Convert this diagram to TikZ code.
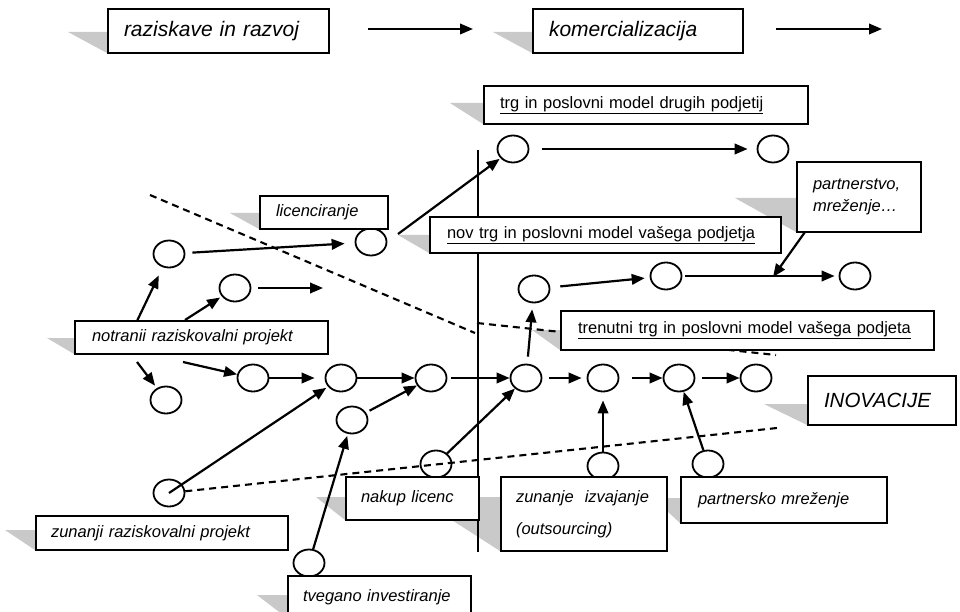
\documentclass[tikz,border=0pt]{standalone}
\usepackage{fontspec}
\setmainfont{Liberation Sans}
\usetikzlibrary{arrows.meta,shapes.geometric}
\begin{document}
\begin{tikzpicture}[x=1pt,y=-1pt,
 box/.style={draw,line width=2pt,fill=white,anchor=west,align=left,inner ysep=0pt},
 circ/.style={draw,ellipse,line width=1.8pt,minimum width=31pt,minimum height=27pt,inner sep=0pt},
 arr/.style={line width=2.2pt,-{Triangle[length=13pt,width=10.5pt]}},
 dashline/.style={line width=2.1pt,dash pattern=on 7pt off 5pt},
 shade/.style={fill=gray!42,draw=none},
 big/.style={font=\fontsize{21}{25}\selectfont\itshape},
 lab/.style={font=\fontsize{16.5}{20}\selectfont\itshape},
 ulab/.style={font=\fontsize{16.5}{20}\selectfont},
]
\useasboundingbox[fill=white] (0,0) rectangle (960,612);

% shadows
\fill[shade] (68,32) -- (107,32) -- (107,53) -- cycle;
\fill[shade] (493,32) -- (532,32) -- (532,53) -- cycle;
\fill[shade] (450,103) -- (483,103) -- (483,124) -- cycle;
\fill[shade] (230,213) -- (259,213) -- (259,229) -- cycle;
\fill[shade] (398,235) -- (429,235) -- (429,253) -- cycle;
\fill[shade] (735,198) -- (796,198) -- (796,232) -- cycle;
\fill[shade] (47,338) -- (74,338) -- (74,354) -- cycle;
\fill[shade] (532,330) -- (560,330) -- (560,350) -- cycle;
\fill[shade] (764,404) -- (807,404) -- (807,425) -- cycle;
\fill[shade] (416,497) -- (500,497) -- (500,551) -- cycle;
\fill[shade] (316,497) -- (345,497) -- (345,520) -- cycle;
\fill[shade] (653,498) -- (680,498) -- (680,523) -- cycle;
\fill[shade] (5,530) -- (35,530) -- (35,550) -- cycle;
\fill[shade] (257,595) -- (287,595) -- (287,618) -- cycle;

% free coordinates
\coordinate (a1s) at (368,29); \coordinate (a1e) at (473,29);
\coordinate (a2s) at (776,29); \coordinate (a2e) at (882,29);
\coordinate (p4) at (398,234);
\coordinate (p6e) at (323,288);
\coordinate (p7s) at (137,321);
\coordinate (p8s) at (185,320);
\coordinate (p9s) at (137,362);
\coordinate (p10s) at (183,362);
\coordinate (p20s) at (805,232);
\coordinate (p20e) at (773,277);
\coordinate (d1s) at (150,195); \coordinate (d1e) at (475,333);
\coordinate (d2s) at (477,323); \coordinate (d2e) at (776,355);
\coordinate (d3e) at (777,428);
\coordinate (v1) at (478,150); \coordinate (v2) at (478,552);

% circles
\node[circ] (c1) at (513,149) {};
\node[circ] (c2) at (773,149) {};
\node[circ] (c3) at (169,254) {};
\node[circ] (c4) at (371,242) {};
\node[circ] (c5) at (235,288) {};
\node[circ] (c6) at (534,289) {};
\node[circ] (c7) at (666,276) {};
\node[circ] (c8) at (855,276) {};
\node[circ] (c9) at (166,400) {};
\node[circ] (c10) at (253,378) {};
\node[circ] (c11) at (341,378) {};
\node[circ] (c12) at (431,378) {};
\node[circ] (c13) at (526,378) {};
\node[circ] (c14) at (603,378) {};
\node[circ] (c15) at (679,378) {};
\node[circ] (c16) at (756,378) {};
\node[circ] (c17) at (352,420) {};
\node[circ] (c18) at (436,464) {};
\node[circ] (c19) at (603,466) {};
\node[circ] (c20) at (708,464) {};
\node[circ] (c21) at (169,493) {};
\node[circ] (c22) at (309,563) {};

% lines
\draw[dashline] (d1s) -- (d1e);
\draw[dashline] (d2s) -- (d2e);
\draw[dashline] (c21) -- (d3e);
\draw[line width=1.5pt] (v1) -- (v2);

% arrows
\draw[arr] (a1s) -- (a1e);
\draw[arr] (a2s) -- (a2e);
\draw[arr,shorten <=13pt,shorten >=9pt] (c1) -- (c2);
\draw[arr,shorten >=1pt] (p4) -- (c1);
\draw[arr,shorten <=7pt,shorten >=10pt] (c3) -- (c4);
\draw[arr,shorten <=7pt] (c5) -- (p6e);
\draw[arr,shorten >=9pt] (p7s) -- (c3);
\draw[arr,shorten >=2pt] (p8s) -- (c5);
\draw[arr,shorten >=3pt] (p9s) -- (c9);
\draw[arr] (p10s) -- (c10);
\draw[arr,shorten >=10pt] (c10) -- (c11);
\draw[arr] (c11) -- (c12);
\draw[arr,shorten <=4pt] (c12) -- (c13);
\draw[arr,shorten <=7pt,shorten >=5pt] (c13) -- (c14);
\draw[arr,shorten <=13pt] (c14) -- (c15);
\draw[arr,shorten <=7pt] (c15) -- (c16);
\draw[arr,shorten <=7pt,shorten >=6pt] (c13) -- (c6);
\draw[arr,shorten <=10pt,shorten >=5pt] (c6) -- (c7);
\draw[arr,shorten <=3pt,shorten >=4pt] (c7) -- (c8);
\draw[arr] (p20s) -- (p20e);
\draw[arr,shorten >=2pt] (c21.center) -- (c11);
\draw[arr,shorten >=2pt] (c22) -- (c17);
\draw[arr,shorten <=4pt] (c17) -- (c12);
\draw[arr] (c18) -- (c13);
\draw[arr,shorten >=8pt] (c19) -- (c14);
\draw[arr] (c20) -- (c15);

% boxes
\node[box,big,text width=189pt,inner xsep=16pt,minimum height=44pt] (rr) at (107,31) {raziskave in razvoj};
\node[box,big,text width=178pt,inner xsep=16pt,minimum height=44pt] (kom) at (532,31) {komercializacija};
\node[box,ulab,text width=292pt,inner xsep=16pt,minimum height=38pt] (trgd) at (483,105) {\underline{trg in poslovni model drugih podjetij}};
\node[box,lab,text width=96pt,inner xsep=16pt,minimum height=33pt] (lic) at (259,212.5) {licenciranje};
\node[box,ulab,text width=317pt,inner xsep=17pt,minimum height=36pt] (nov) at (429,235) {\underline{nov trg in poslovni model vašega podjetja}};
\node[box,text width=92pt,inner xsep=16pt,minimum height=70pt,font=\fontsize{16.5}{22}\selectfont\itshape] (part) at (796,197) {\raisebox{-2pt}{partnerstvo,}\\\raisebox{-2pt}{mreženje…}};
\node[box,lab,text width=219pt,inner xsep=17pt,minimum height=33pt] (notr) at (74,337.5) {notranii raziskovalni projekt};
\node[box,ulab,text width=339pt,inner xsep=17pt,minimum height=39pt] (tren) at (560,330.5) {\underline{trenutni trg in poslovni model vašega podjeta}};
\node[box,text width=116pt,inner xsep=16pt,minimum height=49pt,font=\fontsize{20.5}{24}\selectfont\itshape] (inov) at (807,400.5) {INOVACIJE};
\node[box,lab,text width=103pt,inner xsep=15pt,minimum height=43pt] (nak) at (345,498.5) {nakup licenc};
\node[box,text width=136pt,inner xsep=15pt,minimum height=74pt,font=\fontsize{16.5}{32}\selectfont\itshape] (zun) at (500,514) {\raisebox{-3pt}{zunanje~ izvajanje}\\\raisebox{-3pt}{(outsourcing)}};
\node[box,lab,text width=172pt,inner xsep=17pt,minimum height=46pt] (pmr) at (680,500) {partnersko mreženje};
\node[box,lab,text width=222pt,inner xsep=15pt,minimum height=34pt] (zrp) at (35,533) {zunanji raziskovalni projekt};
\node[box,lab,text width=153pt,inner xsep=15pt,minimum height=42pt] (tve) at (287,597) {tvegano investiranje};
\end{tikzpicture}
\end{document}
